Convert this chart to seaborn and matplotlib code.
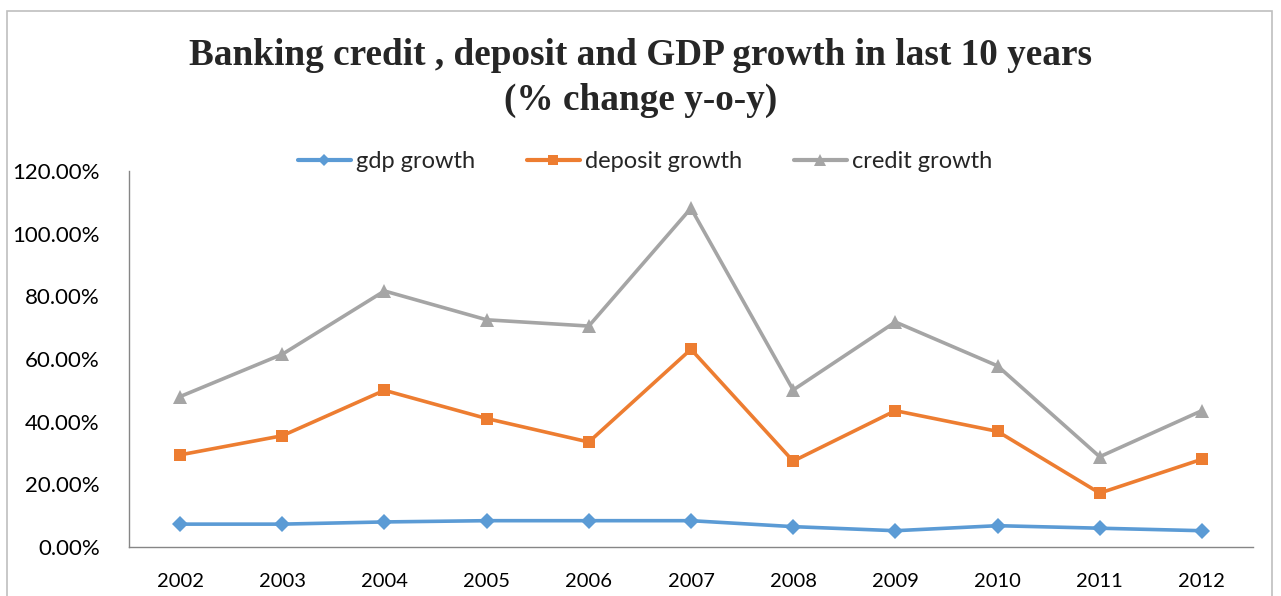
import pandas as pd
import seaborn as sns
import matplotlib.pyplot as plt
from matplotlib.patches import Rectangle
from matplotlib.ticker import PercentFormatter

#-------------------------------------------------------------------------------
# data
years = [2002, 2003, 2004, 2005, 2006, 2007, 2008, 2009, 2010, 2011, 2012]
gdp_growth = [0.073, 0.073, 0.080, 0.084, 0.084, 0.084, 0.065, 0.052, 0.068, 0.060, 0.052]
deposit_growth = [0.294, 0.355, 0.500, 0.410, 0.335, 0.631, 0.274, 0.435, 0.369, 0.172, 0.280]
credit_growth = [0.480, 0.615, 0.817, 0.725, 0.705, 1.081, 0.501, 0.718, 0.578, 0.288, 0.435]
series_names = ['gdp growth', 'deposit growth', 'credit growth']

df = pd.DataFrame({'year': years * 3,
                   'value': gdp_growth + deposit_growth + credit_growth,
                   'series': [s for s in series_names for _ in years]})

#-------------------------------------------------------------------------------
# plot
sns.set_style('white')
plt.rcParams['font.family'] = ['Lato', 'DejaVu Sans']

fig = plt.figure(figsize=(12.81, 5.96), dpi=100)
ax = fig.add_axes([0.1007, 0.0822, 0.8774, 0.631])

palette = {'gdp growth': '#5B9BD5', 'deposit growth': '#ED7D31', 'credit growth': '#A5A5A5'}
markers = {'gdp growth': 'D', 'deposit growth': 's', 'credit growth': '^'}
sizes = {'gdp growth': 8, 'deposit growth': 8.5, 'credit growth': 10}
for name in series_names:
    sub = df[df['series'] == name]
    sns.lineplot(data=sub, x='year', y='value', ax=ax, color=palette[name],
                 marker=markers[name], markersize=sizes[name], markeredgewidth=0,
                 linewidth=2.6, label=name)

ax.set_xlim(2001.5, 2012.5)
ax.set_ylim(0, 1.2)
ax.set_xticks(years)
ax.set_yticks([0, 0.2, 0.4, 0.6, 0.8, 1.0, 1.2])
ax.yaxis.set_major_formatter(PercentFormatter(1.0, decimals=2))
ax.tick_params(axis='both', length=0, colors='#000000')
ax.tick_params(axis='x', pad=19, labelsize=14.5)
ax.tick_params(axis='y', pad=21, labelsize=16)
ax.set_xlabel('')
ax.set_ylabel('')
for side in ['top', 'right']:
    ax.spines[side].set_visible(False)
for side in ['left', 'bottom']:
    ax.spines[side].set_color('#868686')
    ax.spines[side].set_linewidth(1)

# legend is centred on the chart area, not on the plot area
leg = ax.legend(loc='center', bbox_to_anchor=(0.459, 1.025), ncol=3, frameon=False,
                fontsize=17, handlelength=2.25, columnspacing=2.2, handletextpad=0.2,
                markerscale=0.8)
for h in leg.legend_handles:
    h.set_linewidth(3)

fig.text(0.5, 0.907, 'Banking credit , deposit and GDP growth in last 10 years',
         ha='center', va='center', fontsize=26.8, fontweight='bold', family='Liberation Serif')
fig.text(0.5, 0.832, '(% change y-o-y)', ha='center', va='center',
         fontsize=26.8, fontweight='bold', family='Liberation Serif')

# chart frame (bottom edge runs off the image)
fig.patches.append(Rectangle((7, -50), 1265, 596 - 11 + 50, transform=None,
                             fill=False, edgecolor='#BFBFBF', linewidth=1.2))

plt.savefig('out.png', dpi=100)
